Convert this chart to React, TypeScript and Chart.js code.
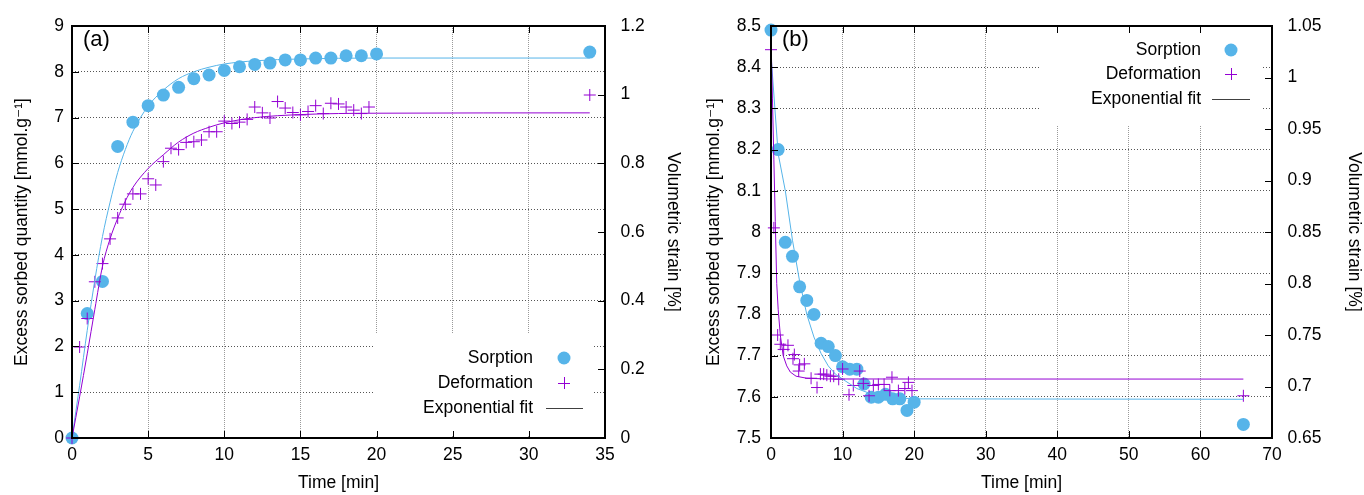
import React, { useEffect, useRef } from 'react';
import { Chart, registerables } from 'chart.js';

Chart.register(...registerables);

// ---------------- Panel (a) data ----------------
const timeSorpA = [0, 1, 2, 3, 4, 5, 6, 7, 8, 9, 10, 11, 12, 13, 14, 15, 16, 17, 18, 19, 20, 34];
const sorpA = [0, 2.72, 3.42, 6.37, 6.9, 7.26, 7.49, 7.66, 7.85, 7.93, 8.03, 8.11, 8.16, 8.19, 8.26, 8.26, 8.3, 8.3, 8.35, 8.35, 8.39, 8.43];

const timeDefA = [0, 0.5, 1, 1.5, 2, 2.5, 3, 3.5, 4, 4.5, 5, 5.5, 6, 6.5, 7, 7.5, 8, 8.5, 9, 9.5, 10, 10.5, 11, 11.5, 12, 12.5, 13, 13.5, 14, 14.5, 15, 15.5, 16, 16.5, 17, 17.5, 18, 18.5, 19, 19.5, 34];
const defA = [0, 0.265, 0.348, 0.455, 0.508, 0.58, 0.641, 0.681, 0.711, 0.711, 0.755, 0.737, 0.805, 0.844, 0.84, 0.861, 0.863, 0.868, 0.892, 0.892, 0.923, 0.916, 0.92, 0.928, 0.964, 0.947, 0.932, 0.98, 0.961, 0.948, 0.941, 0.951, 0.968, 0.945, 0.975, 0.973, 0.964, 0.955, 0.945, 0.964, 0.999];

const fitTimeA = [0, 0.5, 1, 1.5, 2, 2.5, 3, 3.5, 4, 5, 6, 7, 8, 9, 10, 12, 15, 20, 34];
const fitSorpA = [0, 1.15, 2.35, 3.45, 4.4, 5.15, 5.8, 6.3, 6.7, 7.25, 7.6, 7.85, 8.0, 8.1, 8.17, 8.24, 8.28, 8.3, 8.3];
const fitDefA = [0, 0.12, 0.245, 0.375, 0.5, 0.58, 0.64, 0.69, 0.73, 0.785, 0.825, 0.862, 0.888, 0.905, 0.918, 0.933, 0.942, 0.946, 0.947];

const xTicksA = [0, 5, 10, 15, 20, 25, 30, 35];
const yTicksA = [0, 1, 2, 3, 4, 5, 6, 7, 8, 9];
const y2TicksA = [0, 0.2, 0.4, 0.6, 0.8, 1, 1.2];

// ---------------- Panel (b) data ----------------
const timeSorpB = [0, 1, 2, 3, 4, 5, 6, 7, 8, 9, 10, 11, 12, 13, 14, 15, 16, 17, 18, 19, 20, 66];
const sorpB = [8.49, 8.2, 7.975, 7.941, 7.867, 7.834, 7.8, 7.73, 7.722, 7.7, 7.673, 7.667, 7.667, 7.631, 7.599, 7.599, 7.606, 7.595, 7.595, 7.567, 7.587, 7.533];

const timeDefB = [0, 0.4, 0.93, 1.3, 1.77, 2.37, 3.07, 3.26, 3.87, 4.0, 4.66, 5.6, 6.43, 6.9, 7.36, 7.8, 8.3, 8.76, 9.46, 10.0, 10.9, 11.5, 12.4, 12.9, 13.7, 14.3, 15.0, 15.8, 16.6, 16.9, 17.8, 18.7, 19.2, 19.7, 66];
const defB = [1.027, 0.854, 0.75, 0.741, 0.736, 0.74, 0.727, 0.731, 0.715, 0.721, 0.722, 0.708, 0.699, 0.712, 0.712, 0.711, 0.71, 0.71, 0.707, 0.717, 0.692, 0.701, 0.715, 0.703, 0.691, 0.701, 0.702, 0.702, 0.696, 0.709, 0.696, 0.698, 0.704, 0.696, 0.691];

const fitTimeSorpB = [0, 1, 2, 3, 4, 5, 6, 7, 8, 9, 10, 12, 14, 16, 20, 66];
const fitSorpB = [8.43, 8.19, 8.1, 7.98, 7.88, 7.8, 7.745, 7.705, 7.675, 7.655, 7.643, 7.62, 7.607, 7.6, 7.595, 7.594];
const fitTimeDefB = [0, 0.2, 0.4, 0.6, 0.8, 1.0, 1.3, 1.7, 2.2, 2.7, 3.5, 5, 8, 66];
const fitDefB = [1.04, 0.98, 0.92, 0.86, 0.8, 0.775, 0.75, 0.73, 0.72, 0.714, 0.71, 0.708, 0.7073, 0.7072];

const xTicksB = [0, 10, 20, 30, 40, 50, 60, 70];
const yTicksB = [7.5, 7.6, 7.7, 7.8, 7.9, 8, 8.1, 8.2, 8.3, 8.4, 8.5];
const y2TicksB = [0.65, 0.7, 0.75, 0.8, 0.85, 0.9, 0.95, 1, 1.05];

const legendLabels = ['Sorption', 'Deformation', 'Exponential fit'];

// ---------------- styling ----------------
const FONT = "'Liberation Sans', 'DejaVu Sans', Arial, sans-serif";
const FS = 17.5;
const BLUE = '#56b4e9';
const PURPLE = '#9400d3';
const FITGRAY = '#404040';

const zip = (xs: number[], ys: number[]) => xs.map((x, i) => ({ x, y: ys[i] }));
const gfmt = (v: number) => String(parseFloat(Number(v).toFixed(3)));

interface Spec {
  id: string;
  label: string;
  labelX: number;
  xMax: number;
  xTicks: number[];
  yMin: number; yMax: number; yTicks: number[]; yFmt: (v: number) => string;
  y2Min: number; y2Max: number; y2Ticks: number[];
  leftW: number; rightW: number; top: number; bottomH: number;
  yTickPad: number; y2TickPad: number;
  leftTitlePad: number; rightTitlePad: number;
  legendBox: [number, number, number, number];
  legendTextX: number; legendSymX: number; legendLine: [number, number]; legendY: number[];
  tension: boolean;
  sorp: { x: number; y: number }[];
  def: { x: number; y: number }[];
  fitSorp: { x: number; y: number }[];
  fitDef: { x: number; y: number }[];
}

function makePlugin(s: Spec) {
  return {
    id: 'gp_' + s.id,
    beforeDatasetsDraw(chart: any) {
      const ctx = chart.ctx;
      const [x0, y0, x1, y1] = s.legendBox;
      ctx.save();
      ctx.fillStyle = '#ffffff';
      ctx.fillRect(x0, y0, x1 - x0, y1 - y0);
      ctx.restore();
    },
    afterDraw(chart: any) {
      const { ctx, chartArea: a, scales } = chart;
      ctx.save();
      ctx.strokeStyle = '#000';
      ctx.lineWidth = 1;
      const TL = 7;
      ctx.beginPath();
      s.xTicks.forEach((v) => {
        const p = Math.round(scales.x.getPixelForValue(v)) + 0.5;
        if (p <= a.left + 2 || p >= a.right - 2) return;
        ctx.moveTo(p, a.bottom); ctx.lineTo(p, a.bottom - TL);
        ctx.moveTo(p, a.top); ctx.lineTo(p, a.top + TL);
      });
      s.yTicks.forEach((v) => {
        const p = Math.round(scales.y.getPixelForValue(v)) + 0.5;
        if (p <= a.top + 2 || p >= a.bottom - 2) return;
        ctx.moveTo(a.left, p); ctx.lineTo(a.left + TL, p);
      });
      s.y2Ticks.forEach((v) => {
        const p = Math.round(scales.y2.getPixelForValue(v)) + 0.5;
        if (p <= a.top + 2 || p >= a.bottom - 2) return;
        ctx.moveTo(a.right, p); ctx.lineTo(a.right - TL, p);
      });
      ctx.stroke();
      ctx.lineWidth = 2;
      ctx.strokeRect(a.left, a.top, a.right - a.left, a.bottom - a.top);

      // legend
      ctx.font = `${FS}px ${FONT}`;
      ctx.fillStyle = '#000';
      ctx.textAlign = 'right';
      ctx.textBaseline = 'middle';
      legendLabels.forEach((t, i) => ctx.fillText(t, s.legendTextX, s.legendY[i]));
      ctx.fillStyle = BLUE;
      ctx.beginPath();
      ctx.arc(s.legendSymX, s.legendY[0], 6.5, 0, Math.PI * 2);
      ctx.fill();
      ctx.strokeStyle = PURPLE;
      ctx.lineWidth = 1;
      ctx.beginPath();
      ctx.moveTo(s.legendSymX - 6, s.legendY[1] + 0.5); ctx.lineTo(s.legendSymX + 6, s.legendY[1] + 0.5);
      ctx.moveTo(s.legendSymX + 0.5, s.legendY[1] - 6); ctx.lineTo(s.legendSymX + 0.5, s.legendY[1] + 6);
      ctx.stroke();
      ctx.strokeStyle = FITGRAY;
      ctx.beginPath();
      ctx.moveTo(s.legendLine[0], s.legendY[2] + 0.5); ctx.lineTo(s.legendLine[1], s.legendY[2] + 0.5);
      ctx.stroke();

      // panel label
      ctx.fillStyle = '#000';
      ctx.font = `22px ${FONT}`;
      ctx.textAlign = 'left';
      ctx.fillText(s.label, s.labelX, 40);
      ctx.restore();
    },
  };
}

function makeConfig(s: Spec): any {
  const lineBase = {
    showLine: true,
    pointRadius: 0,
    borderWidth: 1,
    fill: false,
    ...(s.tension ? { cubicInterpolationMode: 'monotone' } : { tension: 0 }),
  };
  return {
    type: 'scatter',
    data: {
      datasets: [
        { ...lineBase, label: 'fitDef', data: s.fitDef, yAxisID: 'y2', borderColor: PURPLE },
        { ...lineBase, label: 'fitSorp', data: s.fitSorp, yAxisID: 'y', borderColor: BLUE },
        {
          label: 'Deformation', data: s.def, yAxisID: 'y2', showLine: false,
          pointStyle: 'cross', pointRadius: 6, pointBorderColor: PURPLE, borderColor: PURPLE,
          pointBorderWidth: 1, clip: false,
        },
        {
          label: 'Sorption', data: s.sorp, yAxisID: 'y', showLine: false,
          pointStyle: 'circle', pointRadius: 6.5, pointBackgroundColor: BLUE, backgroundColor: BLUE,
          pointBorderWidth: 0, borderWidth: 0, clip: false,
        },
      ],
    },
    options: {
      animation: false,
      responsive: false,
      maintainAspectRatio: false,
      events: [],
      layout: { padding: { top: s.top, left: 0, right: 0, bottom: 0 } },
      plugins: { legend: { display: false }, tooltip: { enabled: false } },
      scales: {
        x: {
          type: 'linear', position: 'bottom', min: 0, max: s.xMax,
          afterBuildTicks: (sc: any) => { sc.ticks = s.xTicks.map((v) => ({ value: v })); },
          afterFit: (sc: any) => { sc.height = s.bottomH; },
          grid: { color: '#9a9a9a', lineWidth: 1, drawTicks: false },
          border: { display: false, dash: [1, 1] },
          ticks: { padding: 6.5, color: '#000', font: { size: FS, family: FONT }, autoSkip: false, maxRotation: 0, callback: (v: number) => gfmt(v) },
          title: { display: true, text: 'Time [min]', color: '#000', font: { size: FS, family: FONT, lineHeight: 1 }, padding: { top: 0, bottom: 3.25 } },
        },
        y: {
          type: 'linear', position: 'left', min: s.yMin, max: s.yMax,
          afterBuildTicks: (sc: any) => { sc.ticks = s.yTicks.map((v) => ({ value: v })); },
          afterFit: (sc: any) => { sc.width = s.leftW; },
          grid: { color: '#555555', lineWidth: 1, drawTicks: false },
          border: { display: false, dash: [1, 2] },
          ticks: { padding: s.yTickPad, color: '#000', font: { size: FS, family: FONT }, autoSkip: false, callback: (v: number) => s.yFmt(v) },
          title: { display: true, text: 'Excess sorbed quantity [mmol.g⁻¹]', color: '#000', font: { size: FS, family: FONT, lineHeight: 1 }, padding: { top: s.leftTitlePad, bottom: 0 } },
        },
        y2: {
          type: 'linear', position: 'right', min: s.y2Min, max: s.y2Max,
          afterBuildTicks: (sc: any) => { sc.ticks = s.y2Ticks.map((v) => ({ value: v })); },
          afterFit: (sc: any) => { sc.width = s.rightW; },
          grid: { display: false, drawTicks: false },
          border: { display: false },
          ticks: { padding: s.y2TickPad, color: '#000', font: { size: FS, family: FONT }, autoSkip: false, callback: (v: number) => gfmt(v) },
          title: { display: true, text: 'Volumetric strain [%]', color: '#000', font: { size: FS, family: FONT, lineHeight: 1 }, padding: { top: s.rightTitlePad, bottom: 0 } },
        },
      },
    },
    plugins: [makePlugin(s)],
  };
}

const specA: Spec = {
  id: 'a', label: '(a)', labelX: 83,
  xMax: 35, xTicks: xTicksA,
  yMin: 0, yMax: 9, yTicks: yTicksA, yFmt: (v) => gfmt(v),
  y2Min: 0, y2Max: 1.2, y2Ticks: y2TicksA,
  leftW: 72, rightW: 77, top: 18, bottomH: 57,
  yTickPad: 8, y2TickPad: 15.5,
  leftTitlePad: 13.25, rightTitlePad: 0.25,
  legendBox: [373, 333, 593, 436],
  legendTextX: 533, legendSymX: 564, legendLine: [546, 583], legendY: [358, 383, 408],
  tension: true,
  sorp: zip(timeSorpA, sorpA),
  def: zip(timeDefA, defA),
  fitSorp: zip(fitTimeA, fitSorpA),
  fitDef: zip(fitTimeA, fitDefA),
};

const specB: Spec = {
  id: 'b', label: '(b)', labelX: 100,
  xMax: 70, xTicks: xTicksB,
  yMin: 7.5, yMax: 8.5, yTicks: yTicksB, yFmt: (v) => Number(v).toFixed(1).replace(/\.0$/, ''),
  y2Min: 0.65, y2Max: 1.05, y2Ticks: y2TicksB,
  leftW: 89, rightW: 92, top: 19, bottomH: 57,
  yTickPad: 10, y2TickPad: 15.5,
  leftTitlePad: 23.25, rightTitlePad: 1.25,
  legendBox: [357, 19, 580, 126],
  legendTextX: 519, legendSymX: 549, legendLine: [530, 568], legendY: [50, 74, 99],
  tension: false,
  sorp: zip(timeSorpB, sorpB),
  def: zip(timeDefB, defB),
  fitSorp: zip(fitTimeSorpB, fitSorpB),
  fitDef: zip(fitTimeDefB, fitDefB),
};

export default function App() {
  const refA = useRef<HTMLCanvasElement | null>(null);
  const refB = useRef<HTMLCanvasElement | null>(null);

  useEffect(() => {
    Chart.defaults.font.family = FONT;
    Chart.defaults.font.size = FS;
    Chart.defaults.color = '#000';
    const charts: Chart[] = [];
    if (refA.current) charts.push(new Chart(refA.current, makeConfig(specA)));
    if (refB.current) charts.push(new Chart(refB.current, makeConfig(specB)));
    return () => charts.forEach((c) => c.destroy());
  }, []);

  return (
    <div style={{ position: 'absolute', left: 0, top: 0, width: 1364, height: 495, background: '#fff' }}>
      <canvas ref={refA} width={682} height={495} style={{ position: 'absolute', left: 0, top: 0, width: 682, height: 495 }} />
      <canvas ref={refB} width={682} height={495} style={{ position: 'absolute', left: 682, top: 0, width: 682, height: 495 }} />
    </div>
  );
}
